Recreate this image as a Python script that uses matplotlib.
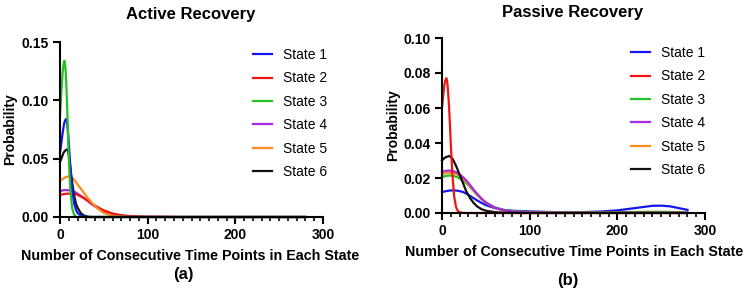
import matplotlib
matplotlib.use("Agg")
import matplotlib.pyplot as plt
from matplotlib.ticker import MultipleLocator, FormatStrFormatter

plt.rcParams['font.family'] = ['Liberation Sans', 'DejaVu Sans']

# shared x grid (consecutive time points)
x = [0, 2, 3, 4, 5, 6, 7, 8, 9, 10, 11, 12, 14, 16, 18, 20, 24, 28, 32, 36, 40, 45, 50,
     60, 70, 80, 90, 100, 120, 140, 160, 180, 200, 220, 240, 250, 260, 280]

labels = ["State 1", "State 2", "State 3", "State 4", "State 5", "State 6"]
colors = ["#1515f0", "#f01515", "#25c025", "#a52ae0", "#ff8c1a", "#111111"]

# Active recovery
active_s1 = [0.055, 0.066, 0.072, 0.077, 0.081, 0.083, 0.084, 0.081, 0.074, 0.064, 0.052, 0.041,
             0.023, 0.012, 0.0065, 0.0035, 0.001, 0.0002] + [0] * 20
active_s2 = [0.019, 0.0192, 0.0194, 0.0196, 0.0197, 0.0198, 0.0199, 0.020, 0.020, 0.020, 0.020, 0.020,
             0.020, 0.0198, 0.0195, 0.019, 0.0175, 0.0158, 0.0138, 0.0118, 0.0098, 0.0076, 0.0057,
             0.003, 0.0015, 0.0008, 0.0004, 0.0002, 0.0001] + [0] * 9
active_s3 = [0.087, 0.113, 0.124, 0.131, 0.134, 0.130, 0.118, 0.098, 0.074, 0.052, 0.034, 0.021,
             0.007, 0.002, 0.0005] + [0] * 23
active_s4 = [0.022, 0.0225, 0.0228, 0.023, 0.023, 0.023, 0.023, 0.023, 0.023, 0.023, 0.0228, 0.0225,
             0.022, 0.0215, 0.021, 0.020, 0.018, 0.016, 0.0135, 0.011, 0.009, 0.007, 0.005,
             0.0025, 0.0012, 0.0006, 0.0003, 0.0002, 0.0001] + [0] * 9
active_s5 = [0.031, 0.032, 0.0325, 0.033, 0.0335, 0.034, 0.0343, 0.0345, 0.0347, 0.0348, 0.0347, 0.0345,
             0.0335, 0.032, 0.030, 0.028, 0.024, 0.020, 0.016, 0.0125, 0.0094, 0.006, 0.0035,
             0.001, 0.0003, 0.0001] + [0] * 12
active_s6 = [0.047, 0.051, 0.053, 0.055, 0.056, 0.057, 0.0575, 0.058, 0.057, 0.053, 0.047, 0.041,
             0.029, 0.019, 0.012, 0.008, 0.003, 0.001, 0.0003] + [0] * 19

# Passive recovery
passive_s1 = [0.012, 0.0122, 0.0123, 0.0124, 0.0125, 0.0126, 0.0127, 0.0128, 0.0128, 0.0129, 0.0129, 0.0129,
              0.0129, 0.0128, 0.0127, 0.0125, 0.012, 0.011, 0.0098, 0.0085, 0.0072, 0.0058, 0.0045,
              0.0028, 0.0018, 0.0013, 0.0011, 0.0009, 0.0006, 0.0004, 0.0005, 0.0008, 0.0015, 0.0028,
              0.0041, 0.0042, 0.0038, 0.0018]
passive_s2 = [0.060, 0.070, 0.074, 0.076, 0.077, 0.075, 0.069, 0.061, 0.051, 0.040, 0.030, 0.021,
              0.009, 0.0035, 0.0012, 0.0004, 0.0001] + [0] * 21
passive_s3 = [0.0207, 0.0209, 0.021, 0.0211, 0.0212, 0.0213, 0.0214, 0.0214, 0.0214, 0.0214, 0.0213, 0.0212,
              0.021, 0.0207, 0.0203, 0.0198, 0.0185, 0.0168, 0.0148, 0.0126, 0.0104, 0.008, 0.006,
              0.0033, 0.0018, 0.0011, 0.0008, 0.0006, 0.0004, 0.0003, 0.0003, 0.0004, 0.0005, 0.0006,
              0.0007, 0.0007, 0.0006, 0.0004]
passive_s4 = [0.0236, 0.0238, 0.0239, 0.024, 0.0241, 0.0242, 0.0242, 0.0242, 0.0242, 0.0242, 0.0241, 0.024,
              0.0237, 0.0233, 0.0228, 0.0222, 0.0205, 0.0184, 0.016, 0.0134, 0.011, 0.0083, 0.006,
              0.0031, 0.0016, 0.0009, 0.0005, 0.0003, 0.0002] + [0.0001] * 9
passive_s5 = [0.0223, 0.0225, 0.0226, 0.0227, 0.0228, 0.0229, 0.023, 0.023, 0.023, 0.023, 0.0229, 0.0228,
              0.0226, 0.0222, 0.0217, 0.0211, 0.0195, 0.0176, 0.0153, 0.0129, 0.0106, 0.008, 0.0058,
              0.003, 0.0015, 0.0008, 0.0005, 0.0003, 0.0002] + [0.0001] * 9
passive_s6 = [0.030, 0.031, 0.0315, 0.0318, 0.032, 0.0322, 0.0324, 0.0325, 0.0324, 0.032, 0.0315, 0.031,
              0.029, 0.027, 0.0245, 0.022, 0.017, 0.012, 0.0085, 0.0058, 0.0038, 0.0022, 0.0013,
              0.0005, 0.0002, 0.0001] + [0] * 12

active = [active_s1, active_s2, active_s3, active_s4, active_s5, active_s6]
passive = [passive_s1, passive_s2, passive_s3, passive_s4, passive_s5, passive_s6]

# draw order so the overlaps look like the original
active_order = [3, 1, 4, 5, 0, 2]
passive_order = [0, 2, 4, 3, 5, 1]

fig = plt.figure(figsize=(7.5, 2.94), dpi=100)
W, H = 750.0, 294.0


def px_axes(x0, x1, ytop, ybot):
    return fig.add_axes([x0 / W, 1 - ybot / H, (x1 - x0) / W, (ybot - ytop) / H])


def style(ax, ymax, ystep):
    ax.set_xlim(0, 300)
    ax.set_ylim(0, ymax)
    ax.xaxis.set_major_locator(MultipleLocator(100))
    ax.xaxis.set_minor_locator(MultipleLocator(10))
    ax.yaxis.set_major_locator(MultipleLocator(ystep))
    ax.yaxis.set_major_formatter(FormatStrFormatter('%.2f'))
    ax.spines['top'].set_visible(False)
    ax.spines['right'].set_visible(False)
    for s in ('left', 'bottom'):
        ax.spines[s].set_linewidth(1.5)
    ax.tick_params(which='major', direction='out', length=5, width=1.5, labelsize=10, pad=3)
    ax.tick_params(which='minor', direction='out', length=3, width=1.2)
    for lab in ax.get_xticklabels() + ax.get_yticklabels():
        lab.set_fontweight('bold')


def draw(ax, data, order, anchor):
    lines = {}
    for i in order:
        ln, = ax.plot(x, data[i], color=colors[i], lw=1.6, label=labels[i], clip_on=False)
        lines[i] = ln
    ax.legend([lines[i] for i in range(6)], labels, loc='upper left',
              bbox_to_anchor=anchor, bbox_transform=fig.transFigure,
              frameon=False, fontsize=10, handlelength=1.35, handletextpad=0.8,
              labelspacing=0.68, borderpad=0, borderaxespad=0)


ax1 = px_axes(60, 323, 42, 217)
draw(ax1, active, active_order, (253 / W, 1 - 48 / H))
style(ax1, 0.15, 0.05)

ax2 = px_axes(442, 705, 38, 213)
draw(ax2, passive, passive_order, (631 / W, 1 - 46 / H))
style(ax2, 0.10, 0.02)

xlab = "Number of Consecutive Time Points in Each State"
fig.text(191 / W, 1 - 14 / H, "Active Recovery", ha='center', va='center', fontsize=12, fontweight='bold')
fig.text(573 / W, 1 - 12 / H, "Passive Recovery", ha='center', va='center', fontsize=12, fontweight='bold')
fig.text(190 / W, 1 - 256 / H, xlab, ha='center', va='center', fontsize=10.3, fontweight='bold')
fig.text(574 / W, 1 - 252 / H, xlab, ha='center', va='center', fontsize=10.3, fontweight='bold')
fig.text(10 / W, 1 - 129 / H, "Probability", ha='center', va='center', rotation=90, fontsize=10, fontweight='bold')
fig.text(393 / W, 1 - 125 / H, "Probability", ha='center', va='center', rotation=90, fontsize=10, fontweight='bold')
fig.text(183 / W, 1 - 274 / H, "(a)", ha='center', va='center', fontsize=12, fontweight='bold')
fig.text(568 / W, 1 - 280 / H, "(b)", ha='center', va='center', fontsize=12, fontweight='bold')

fig.savefig("out.png", dpi=100)
